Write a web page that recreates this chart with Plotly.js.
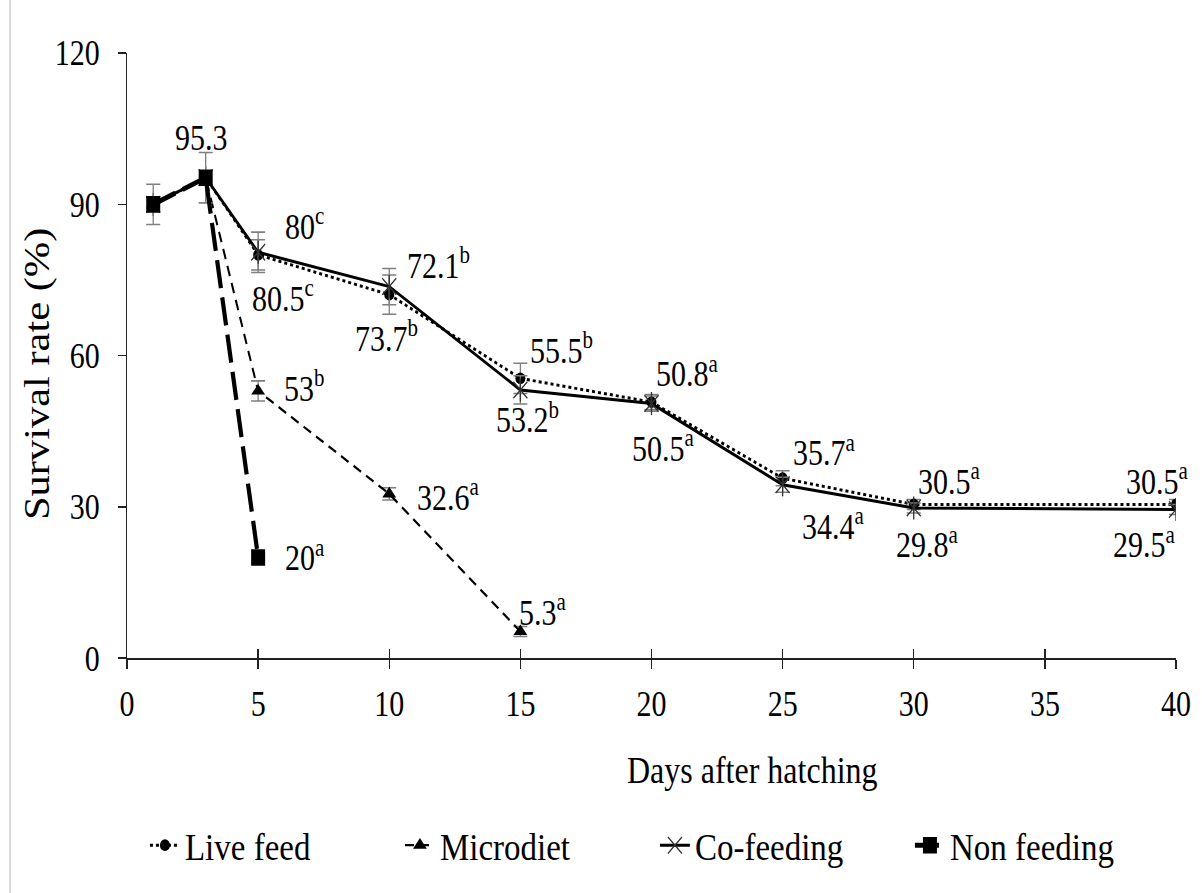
<!DOCTYPE html>
<html>
<head>
<meta charset="utf-8">
<script src="https://cdn.plot.ly/plotly-3.0.1.min.js"></script>
<style>
  html { overflow: hidden; }
  html, body { margin: 0; padding: 0; background: #ffffff; }
  body { width: 1202px; height: 893px; }
  #chart { width: 1202px; height: 757px; transform-origin: 0 0; }
</style>
</head>
<body>
<div id="chart"></div>
<script>
// Survival of larvae under four feeding regimes (days after hatching)
const liveDays   = [1, 3, 5, 10, 15, 20, 25, 30, 40];
const liveVals   = [90, 95.3, 80, 72.1, 55.5, 50.8, 35.7, 30.5, 30.5];
const liveErr    = [NaN, NaN, 3, 3.9, 3, 1.5, 1.5, 1, 1];
const liveLetters = ['', '', 'c', 'b', 'b', 'a', 'a', 'a', 'a'];

const microDays  = [1, 3, 5, 10, 15];
const microVals  = [90, 95.3, 53, 32.6, 5.3];
const microErr   = [NaN, NaN, 2, 1.2, 1];
const microLetters = ['', '', 'b', 'a', 'a'];

const coDays     = [1, 3, 5, 10, 15, 20, 25, 30, 40];
const coVals     = [90, 95.3, 80.5, 73.7, 53.2, 50.5, 34.4, 29.8, 29.5];
const coErr      = [NaN, NaN, 4, 3.6, 2.8, 1.5, 1.5, 1, 1];
const coLetters  = ['', '', 'c', 'b', 'b', 'a', 'a', 'a', 'a'];

const nonDays    = [1, 3, 5];
const nonVals    = [90, 95.3, 20];
const nonErr     = [4, 5, NaN];
const nonLetters = ['', '', 'a'];

const xTicks = [0, 5, 10, 15, 20, 25, 30, 35, 40];
const yTicks = [0, 30, 60, 90, 120];

// The figure is drawn at a reduced height and stretched vertically,
// giving the tall serif lettering of the printed figure.
const FULL_H = 893;
const DRAW_H = 757;
const SCALE = FULL_H / DRAW_H;
document.getElementById('chart').style.transform = 'scaleY(' + SCALE + ')';

const FONT = "'Liberation Serif', serif";
const INK = '#000000';
const ERR_COLOR = '#7f7f7f';
const STAR = '#333333';

function errBars(arr) {
  return { type: 'data', array: arr, visible: true, color: ERR_COLOR, thickness: 1.3, width: 7 };
}

const traces = [
  {
    name: 'Live feed', x: liveDays, y: liveVals, mode: 'lines+markers',
    line: { color: INK, width: 2.5, dash: 'dot' },
    marker: { symbol: 'circle', size: 10, color: INK },
    error_y: errBars(liveErr)
  },
  {
    name: 'Microdiet', x: microDays, y: microVals, mode: 'lines+markers',
    line: { color: INK, width: 2, dash: '9px,6px' },
    marker: { symbol: 'triangle-up', size: 12, color: INK },
    error_y: errBars(microErr)
  },
  {
    name: 'Co-feeding', x: coDays, y: coVals, mode: 'lines+markers',
    line: { color: INK, width: 2.6 },
    marker: { symbol: 'x-thin-open', size: 14, color: STAR, line: { color: STAR, width: 1.3 } },
    error_y: errBars(coErr)
  },
  {
    // vertical stroke of the co-feeding star marker
    name: 'Co-feeding', x: coDays, y: coVals, mode: 'markers', showlegend: false, hoverinfo: 'skip',
    marker: { symbol: 'line-ns-open', size: 14, color: STAR, line: { color: STAR, width: 1.3 } }
  },
  {
    name: 'Non feeding', x: nonDays, y: nonVals, mode: 'lines+markers',
    line: { color: INK, width: 4.2, dash: '24px,8px' },
    marker: { symbol: 'square', size: 14, color: INK },
    error_y: errBars(nonErr)
  },
  {
    // carrier for the inward half of the x tick marks
    x: [], y: [], xaxis: 'x2', showlegend: false, hoverinfo: 'skip'
  }
];

// value labels, offsets given in final (stretched) pixels: [xshift, yshift]
const annotations = [];
function addLabels(days, vals, letters, shifts) {
  days.forEach((d, i) => {
    const s = shifts[i];
    if (!s) return;
    const sup = letters[i] ? '<sup>' + letters[i] + '</sup>' : '';
    annotations.push({
      x: d, y: vals[i], xref: 'x', yref: 'y', showarrow: false,
      text: vals[i] + sup, xshift: s[0], yshift: s[1] / SCALE,
      font: { family: FONT, size: 30, color: INK }
    });
  });
}
addLabels(liveDays, liveVals, liveLetters,
  [null, null, [46, 31], [49, 32], [41, 30], [36, 31], [42, 27], [36, 26], [-19, 25]]);
addLabels(coDays, coVals, coLetters,
  [null, null, [25, -44], [-3, -50], [7, -28], [12, -42], [51, -39], [14, -35], [-32, -33]]);
addLabels(microDays, microVals, microLetters,
  [null, null, [46, 5], [59, -2], [23, 22]]);
addLabels(nonDays, nonVals, nonLetters,
  [null, [-4, 40], [47, 2]]);

annotations.push({
  text: 'Days after hatching', xref: 'paper', yref: 'paper', x: 0.596, y: -0.185,
  xanchor: 'center', yanchor: 'middle',
  showarrow: false, font: { family: FONT, size: 32, color: INK }
});
annotations.push({
  text: 'Survival rate (%)', xref: 'paper', yref: 'paper', x: -0.0858, y: 0.47,
  xanchor: 'center', yanchor: 'middle',
  textangle: -90, showarrow: false, font: { family: FONT, size: 36, color: INK }
});

const layout = {
  width: 1202, height: DRAW_H,
  margin: { l: 127, r: 26, t: 53 / SCALE, b: (FULL_H - 658) / SCALE },
  paper_bgcolor: '#ffffff', plot_bgcolor: '#ffffff',
  font: { family: FONT, size: 30, color: INK },
  showlegend: true,
  legend: {
    orientation: 'h', x: 0.0171, xanchor: 'left', y: -0.309, yanchor: 'middle',
    entrywidth: 210, entrywidthmode: 'pixels',
    font: { family: FONT, size: 33, color: INK }, bgcolor: 'rgba(0,0,0,0)'
  },
  xaxis: {
    range: [0, 40], tickvals: xTicks, ticktext: xTicks.map(String),
    showgrid: false, zeroline: false, showline: true, linecolor: '#222222', linewidth: 1.3,
    ticks: 'outside', ticklen: 9 / SCALE, tickwidth: 1.3, tickcolor: '#222222',
    ticklabelstandoff: 4,
    tickfont: { family: FONT, size: 30, color: INK }
  },
  xaxis2: {
    overlaying: 'x', matches: 'x', anchor: 'y', range: [0, 40], tickvals: xTicks,
    showticklabels: false, showgrid: false, zeroline: false, showline: false,
    ticks: 'inside', ticklen: 9 / SCALE, tickwidth: 1.3, tickcolor: '#222222'
  },
  yaxis: {
    range: [0, 120], tickvals: yTicks, ticktext: yTicks.map(String),
    showgrid: false, zeroline: false, showline: true, linecolor: '#222222', linewidth: 1.3,
    ticks: 'outside', ticklen: 8, tickwidth: 1.3, tickcolor: '#222222',
    ticklabelstandoff: 12,
    tickfont: { family: FONT, size: 30, color: INK }
  },
  annotations: annotations,
  shapes: [{
    type: 'line', xref: 'paper', yref: 'paper',
    x0: -0.1115, x1: -0.1115, y0: -0.39, y1: 1.09,
    line: { color: '#b5b5b5', width: 1 }
  }]
};

Plotly.newPlot('chart', traces, layout, { staticPlot: true, displayModeBar: false });
</script>
</body>
</html>
